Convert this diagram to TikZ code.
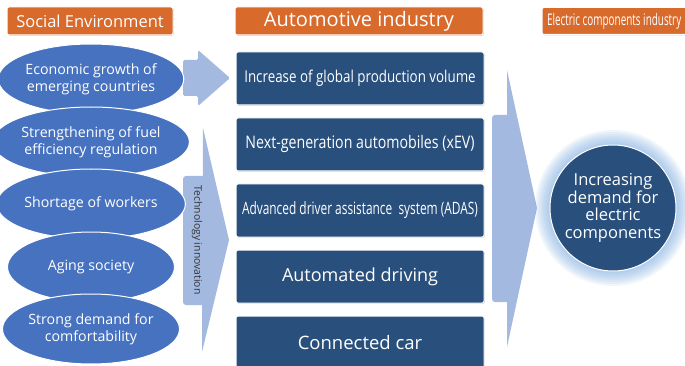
\documentclass[tikz,border=0pt]{standalone}
\usepackage{fontspec}
\setmainfont{Open Sans}
\newfontfamily\condfont[FakeStretch=0.82]{Open Sans}
\newfontfamily\narrowfont[FakeStretch=0.7]{Open Sans}
\newfontfamily\tightfont[FakeStretch=0.62]{Open Sans}
\usetikzlibrary{shapes.geometric,shadows,positioning}

\definecolor{headorange}{RGB}{216,106,43}
\definecolor{factorblue}{RGB}{70,114,192}
\definecolor{boxblue}{RGB}{41,79,124}
\definecolor{arrowblue}{RGB}{164,185,224}
\definecolor{glowblue}{RGB}{120,170,225}

\begin{document}
\begin{tikzpicture}
    [
    x=1pt,y=-1pt,
    header/.style={rectangle,rounded corners=2pt,draw=white,line width=1pt,fill=headorange,text=white,minimum height=28pt,inner sep=0pt,
      drop shadow={opacity=0.35,shadow xshift=0.8pt,shadow yshift=-0.8pt}},
    factor/.style={ellipse,draw=white,line width=1pt,fill=factorblue,text=white,minimum width=167pt,minimum height=70pt,inner sep=0pt,align=center,
      font=\fontsize{14.2}{17}\selectfont},
    carbox/.style={rectangle,rounded corners=2pt,draw=white,line width=1pt,fill=boxblue,text=white,minimum width=248pt,minimum height=53pt,inner sep=0pt,
      drop shadow={opacity=0.35,shadow xshift=0.8pt,shadow yshift=-0.8pt}},
    bigarrow/.style={fill=arrowblue}
    ]
    \clip (0,0) rectangle (685,366);
    \fill[white] (0,0) rectangle (685,366);
    % headers
    \node (social) at (90,21) [header,minimum width=166pt,font=\fontsize{16.5}{18}\selectfont] {Social Environment};
    \node (auto) at (359,21) [header,minimum width=248pt,font=\fontsize{20}{22}\selectfont] {Automotive industry};
    \node (elec) at (622,21) [header,minimum width=160pt,minimum height=27pt,font=\tightfont\fontsize{16}{18}\selectfont] {\makebox[150pt][l]{Electric components industry}};
    % arrows
    \fill[bigarrow,rounded corners=1.5pt] (183,60) -- (198,60) -- (198,50) -- (230,78) -- (198,106) -- (198,96) -- (183,96) -- cycle;
    \fill[bigarrow] (203,128) -- (229,240) -- (202,352) -- cycle;
    \fill[bigarrow,rounded corners=3pt] (207,176) -- (183,176) -- (183,305) -- (207,305) -- cycle;
    \node (tech) at (197,240) [rotate=-90,font=\fontsize{10.4}{12}\selectfont,text=black!80] {Technology innovation};
    \fill[bigarrow] (507,70) -- (537,208) -- (507,347) -- cycle;
    \fill[bigarrow,rounded corners=3pt] (510,115) -- (492,115) -- (492,302) -- (510,302) -- cycle;
    % social factors
    \node (growth) at (91,79) [factor] {Economic growth of\\emerging countries};
    \node (fuel) at (91,142) [factor] {Strengthening of fuel\\efficiency regulation};
    \node (workers) at (91,204) [factor] {Shortage of workers};
    \node (aging) at (91,267) [factor] {Aging society};
    \node (comfort) at (91,329) [factor] {Strong demand for\\comfortability};
    % automotive industry
    \node (volume) at (360,78.5) [carbox,font=\condfont\fontsize{16.3}{18}\selectfont] {Increase of global production volume};
    \node (xev) [carbox,below=12pt of volume,font=\condfont\fontsize{17.3}{19}\selectfont] {Next-generation automobiles (xEV)};
    \node (adas) [carbox,below=12pt of xev,font=\narrowfont\fontsize{17}{19}\selectfont] {Advanced driver assistance\ \ system (ADAS)};
    \node (driving) [carbox,below=12pt of adas,font=\fontsize{18}{20}\selectfont] {Automated driving};
    \node (connected) [carbox,below=12pt of driving,font=\fontsize{18.5}{20}\selectfont] {Connected car};
    % electric components demand
    \foreach \r in {64,66,...,78}
      \fill[glowblue,opacity=0.1] (613,208) circle (\r pt);
    \node (demand) at (613,208) [circle,draw=white,line width=1pt,fill=boxblue,text=white,minimum size=126pt,inner sep=0pt,align=center,
      font=\fontsize{16.5}{17.5}\selectfont] {Increasing\\demand for\\electric\\components};
  \end{tikzpicture}
\end{document}
